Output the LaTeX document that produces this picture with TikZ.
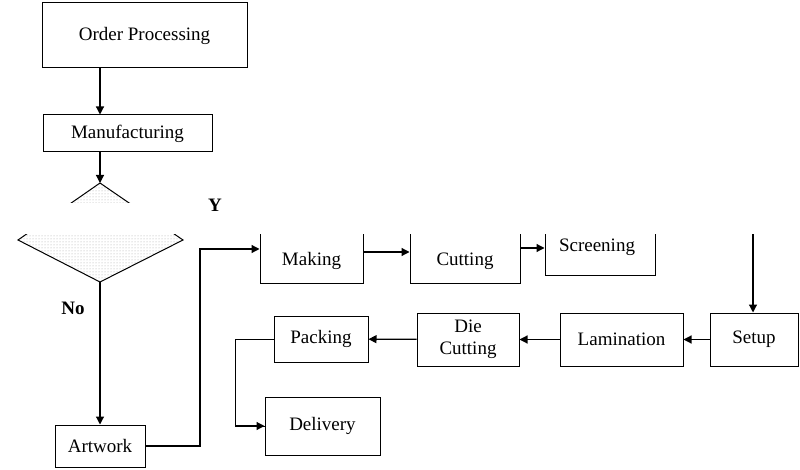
\documentclass[tikz,border=0pt]{standalone}
\usepackage{fontspec}
\setmainfont{Liberation Serif}
\usetikzlibrary{arrows.meta,patterns}
\begin{document}
\begin{tikzpicture}[x=1pt,y=-1pt,
  box/.style={draw,line width=1pt,inner sep=0pt,align=center,font=\fontsize{19}{22}\selectfont},
  arr/.style={line width=1.2pt,-{Triangle[length=8pt,width=8pt]}},
  ln/.style={line width=1pt}]
\useasboundingbox (0,0) rectangle (800,470);
\node[box,minimum width=205,minimum height=65] (op) at (144.5,35.5) {Order Processing};
\node[box,minimum width=169,minimum height=37] (mf) at (127.5,133.5) {Manufacturing};
\coordinate (dt) at (100,183); \coordinate (db) at (100,282);
\coordinate (dl) at (18,240); \coordinate (dr) at (183,240);
\filldraw[ln,pattern=dots,pattern color=gray!70] (dt) -- (dr) -- (db) -- (dl) -- cycle;
\node[box,minimum width=90,minimum height=42] (aw) at (100,446) {Artwork};
\node[box,minimum width=103,minimum height=68] (sm) at (311.5,249) {};
\node[box,minimum width=110,minimum height=68] (sc) at (465,249) {};
\node[box,minimum width=110,minimum height=61] (sr) at (600,245.5) {};
\node[box,minimum width=88,minimum height=53] (su) at (754,339.5) {Setup};
\node[box,minimum width=123,minimum height=53] (la) at (621.5,339.5) {Lamination};
\node[box,minimum width=102,minimum height=53] (dc) at (468,339.5) {Die\\Cutting};
\node[box,minimum width=94,minimum height=46] (pk) at (321,339) {Packing};
\node[box,minimum width=115,minimum height=58] (dv) at (322.5,426) {Delivery};
\draw[arr] (op.south -| 100,0) -- (mf.north -| 100,0);
\draw[arr] (mf.south -| 100,0) -- (dt);
\draw[arr] (db) -- (aw);
\draw[arr] (aw.east) -- (200,446) |- (sm.west);
\draw[arr] (sm.east |- 0,252) -- (sc.west |- 0,252);
\draw[arr] (sc.east |- 0,248) -- (sr.west |- 0,248);
\draw[ln] (sr.east |- 0,225) -| (753,240);
\draw[arr] (753,230) -- (su.north -| 753,0);
\draw[arr] (su) -- (la);
\draw[arr] (la) -- (dc);
\draw[arr] (dc) -- (pk);
\draw[ln] (pk.west) -- (235,339) |- (dv.west);
\draw[arr] (235,426) -- (dv.west);
\fill[white] (0,203) rectangle (800,234);
\node[font=\fontsize{19}{22}\selectfont] (t1) at (311.5,261) {Making};
\node[font=\fontsize{19}{22}\selectfont] (t2) at (465,261) {Cutting};
\node[font=\fontsize{19}{22}\selectfont] (t3) at (597,247) {Screening};
\node[font=\fontsize{19}{22}\bfseries] (no) at (73,308) {No};
\node[font=\fontsize{19}{22}\bfseries,anchor=north] (yes) at (215,196) {Y};
\end{tikzpicture}
\end{document}
